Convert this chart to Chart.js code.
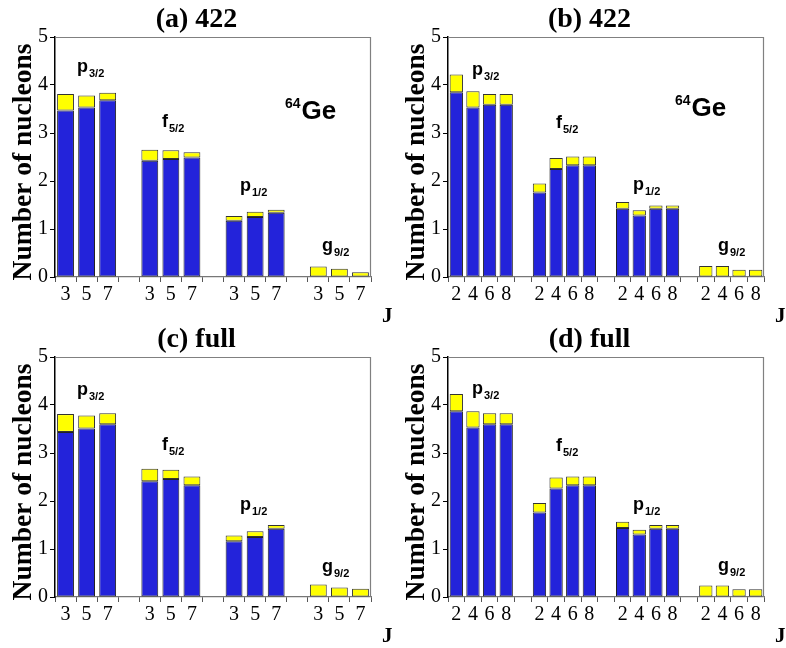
<!DOCTYPE html>
<html>
<head>
<meta charset="utf-8">
<script src="https://cdn.jsdelivr.net/npm/chart.js@4.4.1/dist/chart.umd.min.js"></script>
<style>
  body { margin: 0; background: #fff; width: 786px; height: 648px; position: relative; overflow: hidden; }
  .panel { position: absolute; width: 393px; height: 324px; }
</style>
</head>
<body>
<div class="panel" style="left:0;top:0"><canvas id="chart-a"></canvas></div>
<div class="panel" style="left:393px;top:0"><canvas id="chart-b"></canvas></div>
<div class="panel" style="left:0;top:320px"><canvas id="chart-c"></canvas></div>
<div class="panel" style="left:393px;top:320px"><canvas id="chart-d"></canvas></div>
<script>
// ============================================================
// DATA
// ============================================================
const jOdd  = ['3', '5', '7'];
const jEven = ['2', '4', '6', '8'];
const orbitals = [['p', '3/2'], ['f', '5/2'], ['p', '1/2'], ['g', '9/2']];
const yTicks = [0, 1, 2, 3, 4, 5];

// (a) 422, odd J : blue = lower part, total = top of yellow
const aBlue  = [3.47, 3.53, 3.68,  2.42, 2.46, 2.49,  1.17, 1.25, 1.34,  0, 0, 0];
const aTotal = [3.81, 3.78, 3.84,  2.65, 2.64, 2.60,  1.27, 1.36, 1.40,  0.22, 0.17, 0.10];

// (b) 422, even J
const bBlue  = [3.85, 3.53, 3.59, 3.59,  1.76, 2.25, 2.33, 2.33,  1.42, 1.28, 1.42, 1.42,  0, 0, 0, 0];
const bTotal = [4.22, 3.87, 3.81, 3.81,  1.95, 2.48, 2.51, 2.51,  1.56, 1.39, 1.49, 1.49,  0.23, 0.23, 0.15, 0.15];

// (c) full, odd J
const cBlue  = [3.44, 3.51, 3.60,  2.41, 2.46, 2.33,  1.16, 1.25, 1.42,  0, 0, 0];
const cTotal = [3.81, 3.78, 3.83,  2.67, 2.65, 2.51,  1.28, 1.37, 1.50,  0.26, 0.20, 0.17];

// (d) full, even J
const dBlue  = [3.87, 3.53, 3.60, 3.60,  1.76, 2.26, 2.33, 2.33,  1.44, 1.30, 1.42, 1.42,  0, 0, 0, 0];
const dTotal = [4.23, 3.87, 3.83, 3.83,  1.96, 2.49, 2.51, 2.51,  1.57, 1.40, 1.50, 1.50,  0.24, 0.24, 0.16, 0.16];

// ============================================================
// STYLE
// ============================================================
const BLUE = '#2323da';
const YELLOW = '#ffff00';
const SERIF = '"Liberation Serif", "Times New Roman", serif';
const SANS = '"Liberation Sans", Arial, sans-serif';

// label offsets (px) from chart area top-left: [dx, dyBaseline]
const labelPosOdd  = [[22, 35], [107, 90], [185, 154], [267, 214]];
const labelPosEven = [[24, 38], [108, 91], [185, 153], [270, 214]];
const labelPosOddC = [[22, 38], [107, 93], [185, 153], [267, 215]];
const labelPosEvenD = [[24, 37], [108, 94], [185, 153], [270, 214]];

// build category list with an empty slot between groups
function buildLabels(js) {
  const out = [];
  orbitals.forEach((o, g) => {
    js.forEach(j => out.push(j));
    if (g < orbitals.length - 1) out.push('');
  });
  return out;
}

function withGaps(perGroup, mapFn) {
  const out = [];
  for (let g = 0; g < orbitals.length; g++) {
    for (let i = 0; i < perGroup; i++) out.push(mapFn(g * perGroup + i));
    if (g < orbitals.length - 1) out.push(null);
  }
  return out;
}

// ============================================================
// PLUGINS
// ============================================================
const decorPlugin = {
  id: 'decor',
  afterDraw(chart, args, opts) {
    const { ctx, chartArea: a } = chart;
    ctx.save();
    // frame top + right
    ctx.strokeStyle = '#808080';
    ctx.lineWidth = 1.2;
    ctx.beginPath();
    ctx.moveTo(a.left, a.top + 0.5);
    ctx.lineTo(a.right - 0.5, a.top + 0.5);
    ctx.lineTo(a.right - 0.5, a.bottom);
    ctx.stroke();

    // panel title
    ctx.fillStyle = '#000';
    ctx.font = 'bold 28px ' + SERIF;
    ctx.textAlign = 'center';
    ctx.textBaseline = 'alphabetic';
    ctx.fillText(opts.title, chart.width / 2, 27);

    // y title
    ctx.save();
    ctx.translate(24, (a.top + a.bottom) / 2 + 5);
    ctx.rotate(-Math.PI / 2);
    ctx.font = 'bold 27.5px ' + SERIF;
    ctx.textBaseline = 'middle';
    ctx.fillText('Number of nucleons', 0, 0);
    ctx.restore();

    // J
    ctx.font = 'bold 21px ' + SERIF;
    ctx.textAlign = 'left';
    ctx.fillText('J', a.right + 11, a.bottom + 45);

    // orbital labels
    orbitals.forEach((o, i) => {
      const [dx, dy] = opts.labelPos[i];
      const x = a.left + dx, y = a.top + dy;
      ctx.font = 'bold 18px ' + SANS;
      ctx.fillText(o[0], x, y);
      const w = ctx.measureText(o[0]).width;
      ctx.font = 'bold 11px ' + SANS;
      ctx.fillText(o[1], x + w + 1, y + 5);
    });

    // 64Ge
    if (opts.ge) {
      const [dx, dy] = opts.ge;
      ctx.font = 'bold 14px ' + SANS;
      ctx.fillText('64', a.left + dx, a.top + dy - 11);
      const w = ctx.measureText('64').width;
      ctx.font = 'bold 26px ' + SANS;
      ctx.fillText('Ge', a.left + dx + w + 1, a.top + dy);
    }
    ctx.restore();
  }
};

// ============================================================
// PANELS
// ============================================================
function makePanel(id, title, js, blue, total, labelPos, ge) {
  const n = js.length;
  new Chart(document.getElementById(id), {
    type: 'bar',
    data: {
      labels: buildLabels(js),
      datasets: [
        {
          data: withGaps(n, k => blue[k]),
          backgroundColor: BLUE,
          borderColor: '#222',
          borderWidth: c => (c.raw ? 1 : 0),
          borderSkipped: false,
          grouped: false,
          barPercentage: 0.8,
          categoryPercentage: 1.0
        },
        {
          data: withGaps(n, k => [blue[k], total[k]]),
          backgroundColor: YELLOW,
          borderColor: '#333',
          borderWidth: 1,
          borderSkipped: false,
          grouped: false,
          barPercentage: 0.8,
          categoryPercentage: 1.0
        }
      ]
    },
    options: {
      responsive: false,
      animation: false,
      devicePixelRatio: 1,
      layout: { padding: { top: 37, right: 22, left: 0, bottom: 0 } },
      plugins: {
        legend: { display: false },
        tooltip: { enabled: false },
        decor: { title, labelPos, ge }
      },
      scales: {
        x: {
          offset: true,
          grid: { drawOnChartArea: false, offset: true, color: '#555', tickLength: 5 },
          border: { color: '#777', width: 1.2 },
          ticks: { color: '#000', font: { family: SERIF, size: 20 }, padding: 1, maxRotation: 0, autoSkip: false },
          afterFit: s => { s.height = 47; }
        },
        y: {
          min: 0, max: 5,
          afterBuildTicks: s => { s.ticks = yTicks.map(v => ({ value: v })); },
          grid: { drawOnChartArea: false, color: '#000', tickLength: 5 },
          border: { color: '#000', width: 1.5 },
          ticks: { color: '#000', font: { family: SERIF, size: 20 }, padding: 2 },
          afterFit: s => { s.width = 55; }
        }
      }
    },
    plugins: [decorPlugin]
  });
}

function sizeCanvas(id, h) {
  const c = document.getElementById(id);
  c.width = 393; c.height = h;
  c.style.width = '393px'; c.style.height = h + 'px';
}
['chart-a', 'chart-b', 'chart-c', 'chart-d'].forEach(id => sizeCanvas(id, 324));

makePanel('chart-a', '(a) 422', jOdd, aBlue, aTotal, labelPosOdd, [230, 82]);
makePanel('chart-b', '(b) 422', jEven, bBlue, bTotal, labelPosEven, [227, 79]);
makePanel('chart-c', '(c) full', jOdd, cBlue, cTotal, labelPosOddC, null);
makePanel('chart-d', '(d) full', jEven, dBlue, dTotal, labelPosEvenD, null);
</script>
</body>
</html>
